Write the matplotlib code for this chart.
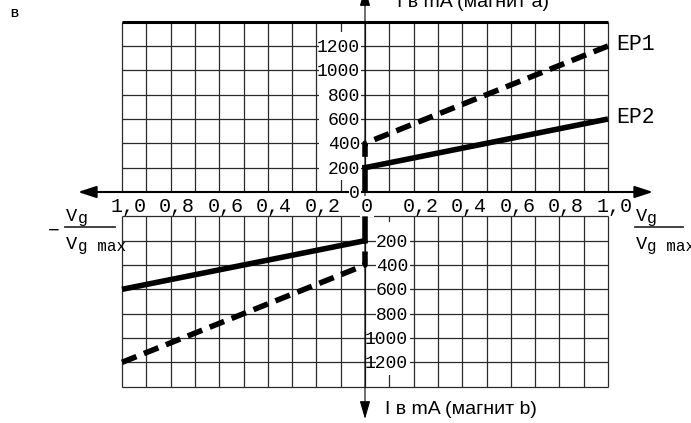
import matplotlib
matplotlib.use("Agg")
import matplotlib.pyplot as plt
import numpy as np

# ---------------- data ----------------
x_ticks_left = [-1.0, -0.8, -0.6, -0.4, -0.2]
x_labels_left = ["1,0", "0,8", "0,6", "0,4", "0,2"]
x_ticks_right = [0.0, 0.2, 0.4, 0.6, 0.8, 1.0]
x_labels_right = ["0", "0,2", "0,4", "0,6", "0,8", "1,0"]

y_ticks_a = [0, 200, 400, 600, 800, 1000, 1200]
y_labels_a = ["0", "200", "400", "600", "800", "1000", "1200"]
y_ticks_b = [200, 400, 600, 800, 1000, 1200]
y_labels_b = ["200", "400", "600", "800", "1000", "1200"]

# magnet a (upper quadrant): Vg/Vgmax, current in mA
ep1_a_x = [1.0, 0.0, 0.0]
ep1_a_y = [1200, 400, 200]
ep2_a_x = [1.0, 0.0, 0.0]
ep2_a_y = [600, 200, 0]
# magnet b (lower quadrant): -Vg/Vgmax, current in mA (drawn downwards)
ep1_b_x = [-1.0, 0.0, 0.0]
ep1_b_y = [1200, 400, 200]
ep2_b_x = [-1.0, 0.0, 0.0]
ep2_b_y = [600, 200, 0]

series_names = ["EP1", "EP2"]

# ---------------- layout ----------------
W, H = 691, 423
X0PX, XS = 365.0, 243.0          # px of x=0, px per unit
Y0PX, YS = 192.0, 146.0 / 1200   # px of y=0, px per mA
GAP = 200                        # lower grid offset (mA)
GMAX = 1400


def px_x(p):
    return (p - X0PX) / XS


def px_y(p):
    return (Y0PX - p) / YS


def low(v):
    return -GAP - np.asarray(v, dtype=float)


fig = plt.figure(figsize=(W / 100, H / 100), dpi=100)
ax = fig.add_axes([0, 0, 1, 1])
ax.set_xlim(px_x(0), px_x(W))
ax.set_ylim(px_y(H), px_y(0))
ax.axis("off")

mono = "Liberation Mono"
sans = "Liberation Sans"
gcol = "#2a2a2a"

# grid
xs = np.round(np.arange(-1.0, 1.0001, 0.1), 2)
ax.vlines(xs, 0, GMAX, color=gcol, lw=0.9, zorder=1)
ax.vlines(xs, low(0), low(GMAX), color=gcol, lw=0.9, zorder=1)
ax.hlines(np.arange(200, GMAX, 200), -1, 1, color=gcol, lw=0.9, zorder=1)
ax.hlines(GMAX, -1, 1, color="black", lw=2.2, zorder=1)
ax.hlines(low(np.arange(0, GMAX + 1, 200)), -1, 1, color=gcol, lw=0.9, zorder=1)

# label masks
ax.fill_between([px_x(319), px_x(361)], px_y(180), px_y(32), color="white", lw=0, zorder=1.5)
ax.fill_between([px_x(376), px_x(410)], px_y(375), px_y(222), color="white", lw=0, zorder=1.5)

# axes arrows
ax.annotate("", xy=(px_x(78), 0), xytext=(px_x(653), 0), annotation_clip=False,
            arrowprops=dict(arrowstyle="<|-|>,head_length=1.1,head_width=0.36",
                            lw=1.5, color="black", shrinkA=0, shrinkB=0), zorder=2)
ax.annotate("", xy=(0, px_y(419)), xytext=(0, px_y(-12)), annotation_clip=False,
            arrowprops=dict(arrowstyle="<|-|>,head_length=1.1,head_width=0.32",
                            lw=0.8, color="black", shrinkA=0, shrinkB=0), zorder=2)

# tick labels
tk = dict(family=mono, fontsize=14.4, ha="center", va="baseline", zorder=3)
for x, s in zip(x_ticks_left, x_labels_left):
    ax.text(x + 0.026, px_y(212), s, **tk)
for x, s in zip(x_ticks_right, x_labels_right):
    off = 0.008 if x == 0 else 0.028
    ax.text(x + off, px_y(212), s, bbox=dict(fc="white", ec="none", pad=0.5) if x == 0 else None, **tk)

for v, s in zip(y_ticks_a, y_labels_a):
    ax.text(px_x(360), v - 48, s, family=mono, fontsize=13, ha="right", va="baseline", zorder=3,
            bbox=dict(fc="white", ec="none", pad=0.5) if v == 0 else None)
for v, s in zip(y_ticks_b, y_labels_b):
    ax.text(px_x(408), low(v) - 48, s, family=mono, fontsize=13, ha="right", va="baseline", zorder=3)

# data lines
lw = 4.0
dash = (0, (2.8, 1.45))
ax.plot(ep1_a_x, ep1_a_y, color="black", lw=lw, ls=dash, dash_capstyle="butt", zorder=4)
ax.plot(ep2_a_x, ep2_a_y, color="black", lw=lw, solid_capstyle="butt", solid_joinstyle="miter", zorder=4)
ax.plot(ep1_b_x, low(ep1_b_y), color="black", lw=lw, ls=dash, dash_capstyle="butt", zorder=4)
ax.plot(ep2_b_x, low(ep2_b_y), color="black", lw=lw, solid_capstyle="butt", solid_joinstyle="miter", zorder=4)

# series labels
for name, yv in zip(series_names, [ep1_a_y[0], ep2_a_y[0]]):
    ax.text(px_x(616), yv - 35, name, family=mono, fontsize=15.5, ha="left", va="baseline", zorder=5)

# axis titles
ax.text(px_x(397), px_y(7), "I в mA (магнит a)", family=sans, fontsize=14, ha="left", va="baseline")
ax.text(px_x(385), px_y(414), "I в mA (магнит b)", family=sans, fontsize=14, ha="left", va="baseline")

# fractions
for xl, xr, vx, gx in [(65, 115, 66, 78), (635, 683, 636, 647)]:
    ax.plot([px_x(xl), px_x(xr)], [px_y(227), px_y(227)], color="#333333", lw=1.3)
    ax.text(px_x(vx), px_y(221), "V", family=mono, fontsize=13.5, ha="left", va="baseline")
    ax.text(px_x(gx), px_y(223), "g", family=mono, fontsize=12, ha="left", va="baseline")
    ax.text(px_x(vx), px_y(249), "V", family=mono, fontsize=13.5, ha="left", va="baseline")
    ax.text(px_x(gx), px_y(251), "g max", family=mono, fontsize=11.5, ha="left", va="baseline")
ax.text(px_x(54), px_y(236), "\u2212", family=mono, fontsize=14, ha="center", va="baseline")

ax.text(px_x(10), px_y(17), "B", family=sans, fontsize=8, fontweight="bold", ha="left", va="baseline")

fig.savefig("out.png", dpi=100)
